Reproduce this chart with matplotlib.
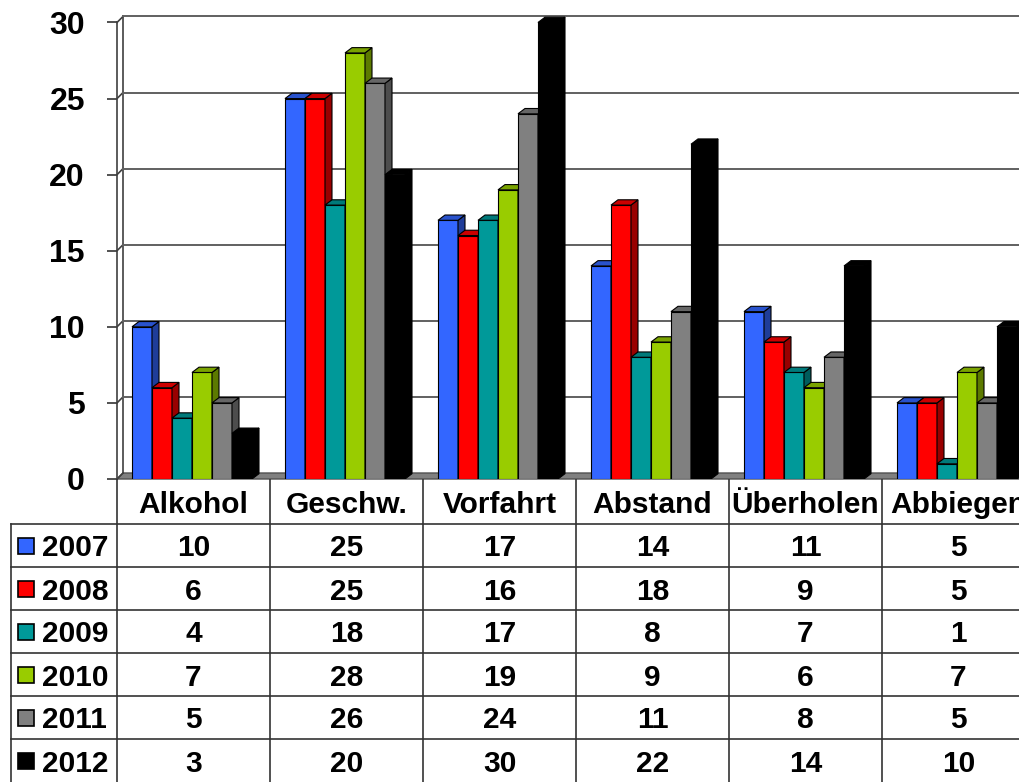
import matplotlib
matplotlib.use('Agg')
import matplotlib.pyplot as plt
from matplotlib.patches import Polygon
import numpy as np

plt.rcParams['font.family'] = ['Liberation Sans', 'DejaVu Sans']

# ---------------- data ----------------
categories = ['Alkohol', 'Geschw.', 'Vorfahrt', 'Abstand', 'Überholen', 'Abbiegen']
years = ['2007', '2008', '2009', '2010', '2011', '2012']
v2007 = [10, 25, 17, 14, 11, 5]
v2008 = [6, 25, 16, 18, 9, 5]
v2009 = [4, 18, 17, 8, 7, 1]
v2010 = [7, 28, 19, 9, 6, 7]
v2011 = [5, 26, 24, 11, 8, 5]
v2012 = [3, 20, 30, 22, 14, 10]
series = [v2007, v2008, v2009, v2010, v2011, v2012]
yticks = [0, 5, 10, 15, 20, 25, 30]

colors = ['#3366FF', '#FF0000', '#009999', '#99CC00', '#808080', '#000000']

# ---------------- layout (pixels) ----------------
W, H = 1020, 782
CAT = 153.0      # px per category column
PXU = 15.217     # px per value unit
Y0 = 479.0       # pixel row of value 0
LEFT = 117.0     # pixel column of the axis

def shade(c, f):
    r, g, b = matplotlib.colors.to_rgb(c)
    return (r * f, g * f, b * f)

fig = plt.figure(figsize=(W / 100, H / 100), dpi=100)

ax = fig.add_axes([LEFT / W, (H - Y0) / H, (W - LEFT) / W, Y0 / H])
xmax = (W - LEFT) / CAT
ax.set_xlim(0, xmax)
ax.set_ylim(0, Y0 / PXU)
for s in ax.spines.values():
    s.set_visible(False)
ax.set_xticks([])
ax.set_yticks(yticks)
ax.set_yticklabels([str(t) for t in yticks])
ax.tick_params(axis='y', length=10 * 0.72, width=1.2, color='#333333',
               pad=22 * 0.72, labelsize=23)
for lbl in ax.get_yticklabels():
    lbl.set_fontweight('bold')

# wall / floor offsets
wdx, wdy = 6 / CAT, 6 / PXU
bdx, bdy = 7 / CAT, 5.3 / PXU
lc = '#404040'

# floor
floor = Polygon([(0, 0), (xmax, 0), (xmax + wdx, wdy), (wdx, wdy)],
                closed=True, facecolor='#808080', edgecolor='#505050',
                lw=1, zorder=1, clip_on=False)
ax.add_patch(floor)

# left wall and grid
ytop = yticks[-1]
ax.plot([0, 0], [0, ytop], color=lc, lw=1.2, zorder=2, clip_on=False)
ax.plot([wdx, wdx], [wdy, ytop + wdy], color=lc, lw=1.2, zorder=2, clip_on=False)
for t in yticks:
    ax.plot([0, wdx], [t, t + wdy], color=lc, lw=1.2, zorder=2, clip_on=False)
    if t > 0:
        ax.plot([wdx, xmax], [t + wdy, t + wdy], color='#606060', lw=1.4,
                zorder=2, clip_on=False)

# bars
bw = 20 / CAT
off = 15 / CAT
x_base = np.arange(len(categories))
for j, (vals, c) in enumerate(zip(series, colors)):
    xs = x_base + off + j * bw
    ax.bar(xs, vals, width=bw, align='edge', color=c, edgecolor='black',
           lw=0.8, zorder=3 + 3 * j)
    for x, v in zip(xs, vals):
        side = Polygon([(x + bw, 0), (x + bw + bdx, bdy), (x + bw + bdx, v + bdy), (x + bw, v)],
                       closed=True, facecolor=shade(c, 0.6), edgecolor='black',
                       lw=0.8, zorder=4 + 3 * j)
        top = Polygon([(x, v), (x + bw, v), (x + bw + bdx, v + bdy), (x + bdx, v + bdy)],
                      closed=True, facecolor=shade(c, 0.8), edgecolor='black',
                      lw=0.8, zorder=4 + 3 * j)
        ax.add_patch(side)
        ax.add_patch(top)

# ---------------- data table ----------------
tax = fig.add_axes([0, 0, 1, (H - Y0) / H])
ROWH = 43.0
hh = 45 / ROWH
nrows = len(years)
tax.set_xlim(-LEFT / CAT, xmax)
tax.set_ylim(nrows, -hh)
tax.axis('off')
xl = (11 - LEFT) / CAT
tc = '#333333'
for r in range(nrows):
    tax.plot([xl, xmax], [r, r], color=tc, lw=1.2)
tax.plot([xl, xl], [0, nrows], color=tc, lw=1.2)
for c in range(len(categories) + 1):
    tax.plot([c, c], [-hh, nrows], color=tc, lw=1.2)

fs = 21.5
for i, cat in enumerate(categories):
    tax.text(i + 0.5, -hh / 2 + 0.08, cat, ha='center', va='center',
             fontsize=fs, fontweight='bold', clip_on=True)
for r, (yr, vals, c) in enumerate(zip(years, series, colors)):
    tax.plot([(26.5 - LEFT) / CAT], [r + 0.5], marker='s', ms=11.5,
             mfc=c, mec='black', mew=1.2)
    tax.text((42 - LEFT) / CAT, r + 0.5, yr, ha='left', va='center_baseline',
             fontsize=fs, fontweight='bold')
    for i, v in enumerate(vals):
        tax.text(i + 0.5, r + 0.5, str(v), ha='center', va='center_baseline',
                 fontsize=fs, fontweight='bold')

fig.savefig('out.png', dpi=100)
